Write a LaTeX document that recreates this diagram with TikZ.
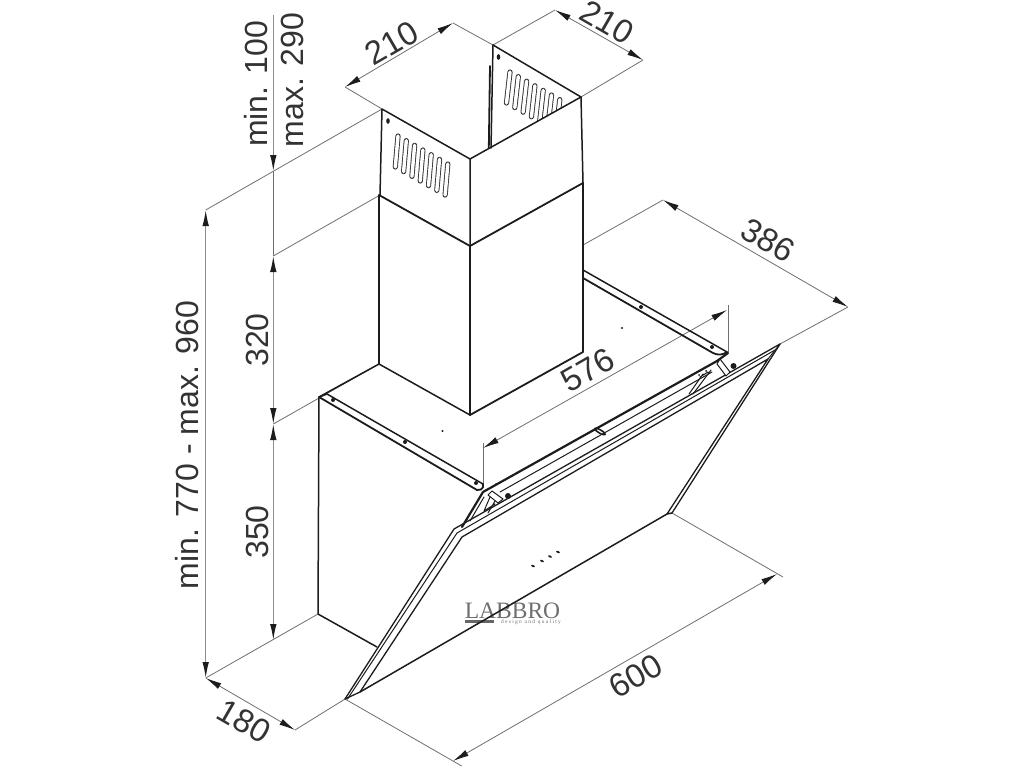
\documentclass[tikz,border=0pt]{standalone}
\usepackage{fontspec}
\setmainfont{Liberation Sans}
\newfontfamily\logofont{Liberation Serif}
\usetikzlibrary{arrows.meta}
\definecolor{dimgray}{HTML}{6E6E6E}
\definecolor{dimvert}{HTML}{8C8C8C}
\definecolor{inkc}{HTML}{1C1C1C}
\definecolor{logogray}{HTML}{6E6E6E}
\tikzset{
  ink/.style={draw=inkc,line width=1.5pt,line join=round,line cap=round},
  thin ink/.style={draw=inkc,line width=1pt,line join=round,line cap=round},
  heavy/.style={draw=inkc,line width=1.8pt,line join=round,line cap=round},
  extline/.style={draw=dimgray,line width=.8pt},
  vline/.style={draw=dimvert,line width=1.2pt},
  dimtwo/.style={{Latex[length=16pt,width=6.5pt,color=inkc]}-{Latex[length=16pt,width=6.5pt,color=inkc]}},
  dimlabel/.style={inner sep=0pt,text=black!80,font=\fontsize{33}{36}\selectfont},
  uplabel/.style={inner sep=0pt,text=black!80,rotate=90,font=\fontsize{32}{36}\selectfont},
  slot/.style={draw=black!80,line width=.9pt,double=white,double distance=3.4pt,line cap=round},
  hole/.style={fill=inkc,draw=none},
}
\begin{document}
\begin{tikzpicture}[x=1pt,y=-1pt]
\useasboundingbox (0,0) rectangle (1024,768);
% key points
\coordinate (dA) at (382,109);
\coordinate (dF) at (470,159);
\coordinate (dR) at (581,97);
\coordinate (dB) at (493,45);
\coordinate (dAb) at (380,195);
\coordinate (dFb) at (470,246);
\coordinate (dRb) at (583,183);
\coordinate (oL) at (379,364);
\coordinate (oF) at (470,415);
\coordinate (oR) at (583,352);
\coordinate (bTL) at (319,397);
\coordinate (bBL) at (318,614);
\coordinate (bBR) at (377,647);
\coordinate (gTip) at (345,699);
\coordinate (gBend) at (454,529);
\coordinate (gTop) at (780,344);
\coordinate (gInTop) at (768,359);
\coordinate (gInBend) at (462,537);
\coordinate (gInTip) at (360,692);
\coordinate (gRb) at (667,514);
% dimension points
\coordinate (v1top) at (273.3,15);
\coordinate (v1a) at (273.3,171);
\coordinate (v1b) at (273.3,256);
\coordinate (v1c) at (273.3,424);
\coordinate (v1d) at (273.3,640);
\coordinate (v2a) at (205.7,210);
\coordinate (v2b) at (205.7,678);
\coordinate (d180) at (295,730);
\coordinate (d600a) at (453,761);
\coordinate (d600ae) at (461.7,766);
\coordinate (d600b) at (777,574);
\coordinate (d600be) at (783,577);
\coordinate (gRe) at (672,513);
\coordinate (d386a) at (663,200);
\coordinate (d386b) at (848,307);
\coordinate (d386s) at (583,245);
\coordinate (d576a) at (483,448);
\coordinate (d576ae) at (483,443);
\coordinate (d576as) at (483,487);
\coordinate (d576b) at (727,310);
\coordinate (d576be) at (728,305);
\coordinate (d576bs) at (728,352);
\coordinate (d210a) at (345,87);
\coordinate (d210b) at (453,23);
\coordinate (d210c) at (555,10);
\coordinate (d210d) at (643,60);
% extension lines
\draw[extline] (d210a) -- (dA) (d210b) -- (dB) (d210c) -- (dB) (d210d) -- (dR);
\draw[extline] (v2a) -- (dA) (v1b) -- (dAb) (v1c) -- (oL) (v2b) -- (bBL);
\draw[extline] (d180) -- (gTip) -- (d600ae) (gRe) -- (d600be);
\draw[extline] (d386s) -- (d386a) (d386b) -- (gTop);
\draw[extline] (d576ae) -- (d576as) (d576be) -- (d576bs);
% dimension lines
\draw[extline,dimtwo] (d210a) -- (d210b);
\draw[extline,dimtwo] (d210c) -- (d210d);
\draw[extline,dimtwo] (d386a) -- (d386b);
\draw[extline,dimtwo] (d576a) -- (d576b);
\draw[extline,dimtwo] (d600a) -- (d600b);
\draw[extline,dimtwo] (v2b) -- (d180);
\draw[vline,-{Latex[length=16pt,width=6.5pt,color=inkc]}] (v1top) -- (v1a);
\draw[extline,line width=1pt] (v1a) -- (v1b);
\draw[vline,dimtwo] (v1b) -- (v1c);
\draw[vline,dimtwo] (v1c) -- (v1d);
\draw[vline,dimtwo] (v2a) -- (v2b);
% vents
\foreach \k in {0,...,6}{
  \draw[slot] ({398+8.3*\k},{136+4.67*\k}) -- ({395.3+8.3*\k},{167+4.67*\k});
}
\begin{scope}
\clip (dB) -- (dR) -- (491,148) -- cycle;
\foreach \k in {0,...,6}{
  \draw[slot] ({510+8.3*\k},{72+4.6*\k}) -- ({506.5+8.3*\k},{103+4.6*\k});
}
\end{scope}
\fill[hole] (388,121) ellipse (1.8pt and 2.8pt);
\fill[hole] (498.5,57) ellipse (1.8pt and 2.8pt);
% upper duct
\draw[ink] (dB) -- (dR) (dA) -- (dF) -- (dR) -- (dRb) (dA) -- (dAb) (dF) -- (dFb);
\draw[ink] (dB) -- (491,148);
\draw[heavy] (490,66) -- (488.8,148);
% outer duct
\draw[heavy] (oL) -- (379,195) -- (dFb) -- (dRb) -- (oR) -- (oF) -- (dFb);
\draw[ink] (oL) -- (oF);
% body
\draw[ink] (oL) -- (bTL) -- (bBL) -- (bBR);
% front rail
\draw[heavy] (bTL) -- (477,490) -- (481,489.5) to[bend right=40] (483,484);
\draw[ink] (bTL) -- (327,394) -- (483,484);
\foreach \p in {(333,400),(405,442),(476,483)}{\fill[hole] \p circle (2pt);}
% back rail
\draw[ink] (583,270) -- (727,352);
\draw[heavy] (583,278) -- (713,353) to[bend right=30] (727,352);
\foreach \p in {(641,307),(712,347)}{\fill[hole] \p circle (2pt);}
\foreach \p in {(622,328),(442.5,431)}{\fill[hole] \p circle (1.1pt);}
% glass
\draw[thin ink,line width=1.3pt] (gTip) -- (gBend) -- (gTop) -- (gRe);
\draw[thin ink] (347.5,699) -- (457,533) -- (775,350);
\draw[thin ink,line width=1.3pt] (gTip) -- (gInTip) -- (gInBend) -- (gInTop) -- (gRb);
\draw[thin ink] (gTop) -- (gInTop);
% front bar and hinges
\draw[heavy,line width=2.2pt] (728,353) -- (717,361) -- (483,492) -- (462,527);
\draw[thin ink] (500,492) -- (712,372);
\draw[thin ink] (484,497) -- (470,521);
\draw[thin ink,fill=white] (488,495) -- (492,491) -- (503,499) -- (498,503) -- cycle;
\draw[thin ink] (490,497) -- (484,511) (495,501) -- (488,513) (484,511) -- (495,504);
\fill[hole] (508,496) circle (3pt);
\draw[thin ink,fill=white] (717,364) -- (720,359) -- (730,372) -- (726,376) -- cycle;
\fill[hole] (733.5,366) circle (3pt);
\draw[thin ink] (689,394) -- (703,374) (693,394) -- (711,370) (700,377) -- (708,372);
\foreach \p in {(496,484),(699,375),(706,371)}{\fill[hole] \p circle (1pt);}
% handle and controls
\draw[thin ink,line width=1.6pt,rotate around={-30:(600,431.5)}] (600,431.5) ellipse (6pt and 1.6pt);
\foreach \p in {(533,566),(542,561),(550,556.5),(558,552)}{
  \fill[hole,rotate around={-25:\p}] \p ellipse (2pt and 1pt);
}
% logo
\node[inner sep=0pt,text=logogray,font=\logofont\fontsize{23.5}{24}\selectfont] (logo) at (512.5,610.5) {LABBRO};
\fill[black!60] (465,620) rectangle (494,623);
\node[inner sep=0pt,text=logogray,font=\logofont\fontsize{5.4}{6}\selectfont] (logosub) at (531,622.5) {d e s i g n\ \ a n d\ \ q u a l i t y};
\draw[ink] (gInTip) -- (gRb) -- (gRe);
% labels
\node[uplabel] (l1) at (256,84) {min. 100};
\node[uplabel] (l2) at (292.5,80) {max. 290};
\node[uplabel] (l3) at (187.5,445) {min. 770 - max. 960};
\node[uplabel] (l4) at (257,340) {320};
\node[uplabel] (l5) at (257,532) {350};
\node[dimlabel,rotate=30] (l6) at (392,43) {210};
\node[dimlabel,rotate=-30] (l7) at (607,22) {210};
\node[dimlabel,rotate=-30] (l8) at (768,240) {386};
\node[dimlabel,rotate=30] (l9) at (588,370) {576};
\node[dimlabel,rotate=30] (l10) at (636,676) {600};
\node[dimlabel,rotate=-30] (l11) at (244,721) {180};
\end{tikzpicture}
\end{document}
